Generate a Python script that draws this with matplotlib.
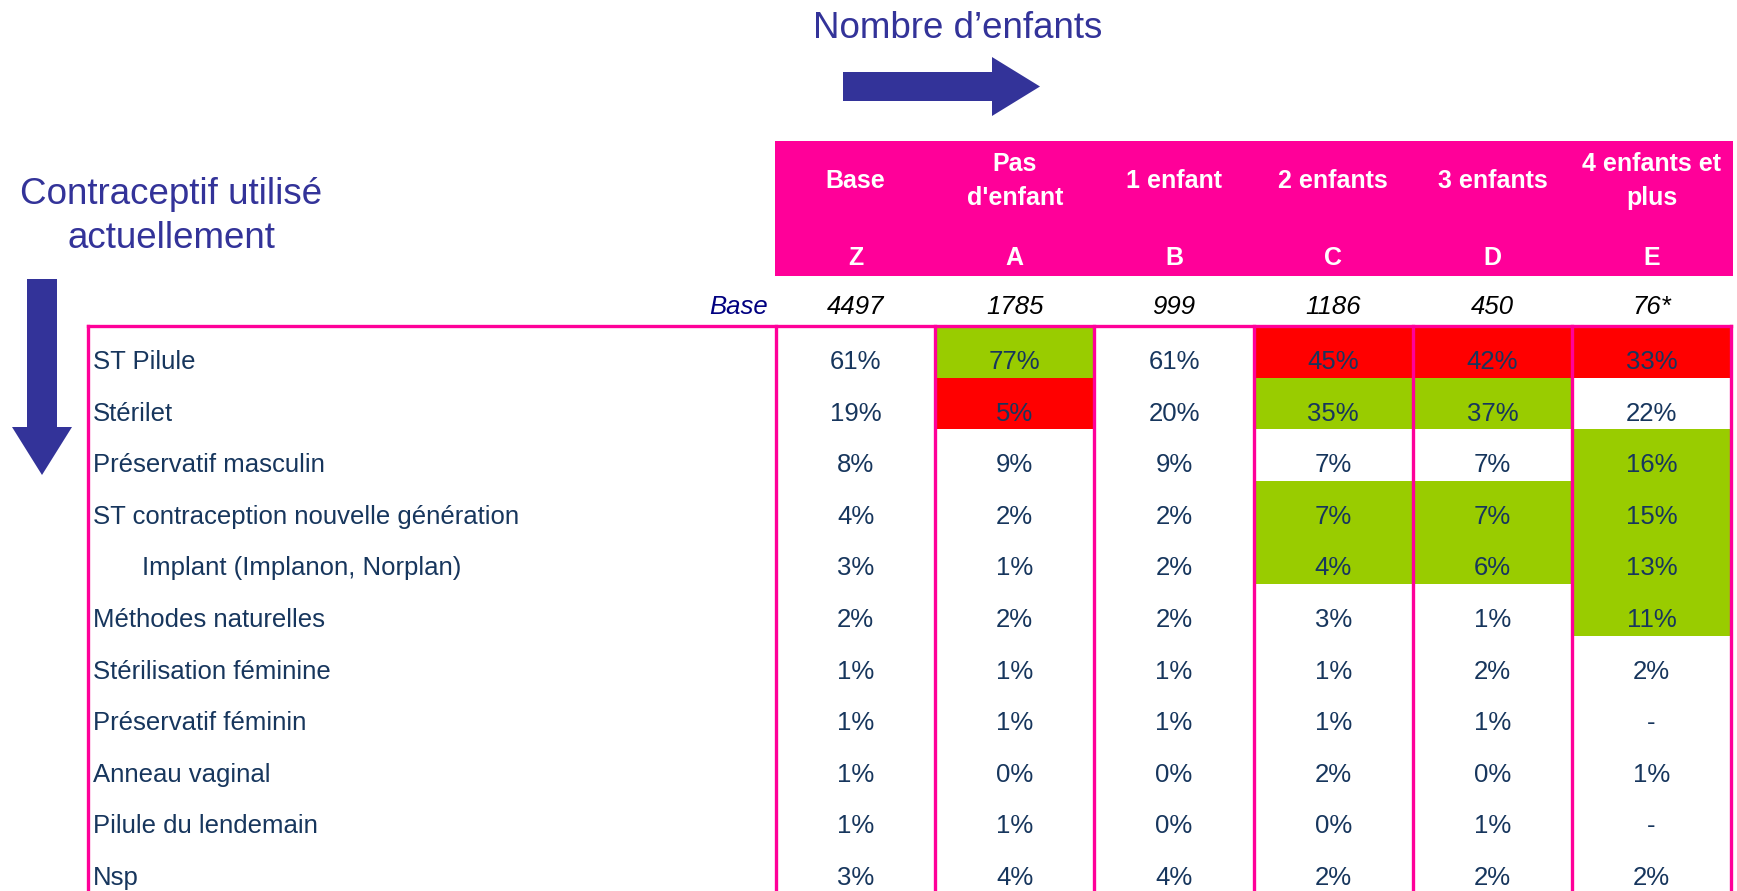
import matplotlib.pyplot as plt
from matplotlib.patches import Rectangle, FancyArrow

plt.rcParams['font.family'] = ['Liberation Sans', 'DejaVu Sans']

row_labels = ["ST Pilule", "Stérilet", "Préservatif masculin",
              "ST contraception nouvelle génération", "Implant (Implanon, Norplan)",
              "Méthodes naturelles", "Stérilisation féminine", "Préservatif féminin",
              "Anneau vaginal", "Pilule du lendemain", "Nsp"]
indent = [False, False, False, False, True, False, False, False, False, False, False]
col_names = ["Base", "Pas\nd'enfant", "1 enfant", "2 enfants", "3 enfants", "4 enfants et\nplus"]
col_letters = ["Z", "A", "B", "C", "D", "E"]
bases = ["4497", "1785", "999", "1186", "450", "76*"]

z_col = [61, 19, 8, 4, 3, 2, 1, 1, 1, 1, 3]
a_col = [77, 5, 9, 2, 1, 2, 1, 1, 0, 1, 4]
b_col = [61, 20, 9, 2, 2, 2, 1, 1, 0, 0, 4]
c_col = [45, 35, 7, 7, 4, 3, 1, 1, 2, 0, 2]
d_col = [42, 37, 7, 7, 6, 1, 2, 1, 0, 1, 2]
e_col = [33, 22, 16, 15, 13, 11, 2, None, 1, None, 2]

# significance flags: 'g' = higher (green), 'r' = lower (red), '' = none
flags = [
    ['', 'g', '', 'r', 'r', 'r'],
    ['', 'r', '', 'g', 'g', ''],
    ['', '', '', '', '', 'g'],
    ['', '', '', 'g', 'g', 'g'],
    ['', '', '', 'g', 'g', 'g'],
    ['', '', '', '', '', 'g'],
    ['', '', '', '', '', ''],
    ['', '', '', '', '', ''],
    ['', '', '', '', '', ''],
    ['', '', '', '', '', ''],
    ['', '', '', '', '', ''],
]

columns = [z_col, a_col, b_col, c_col, d_col, e_col]

# colours
PINK = '#FF0099'
GREEN = '#99CC00'
RED = '#FF0000'
NAVY = '#333399'
TXT = '#17365D'
fill = {'g': GREEN, 'r': RED}

W, H = 1737, 891
fig = plt.figure(figsize=(W / 100, H / 100), dpi=100)
ax = fig.add_axes([0, 0, 1, 1])
ax.set_xlim(0, W)
ax.set_ylim(H, 0)
ax.axis('off')

# layout (pixel units)
x_left = 88
x0 = 776          # first data column edge
cw = 159.2        # column width
y_top = 326       # top border of body
rh = 51.6         # row height
col_edges = [x0 + cw * j for j in range(len(columns) + 1)]
col_mid = [x0 + cw * (j + 0.5) for j in range(len(columns))]

# titles + arrows
ax.text(958, 38, "Nombre d\u2019enfants", fontsize=26.5, color=NAVY, ha='center', va='baseline')
ax.add_patch(FancyArrow(843, 86.5, 197, 0, width=29, head_width=59, head_length=48,
                        length_includes_head=True, color=NAVY, lw=0))
ax.text(171, 204, "Contraceptif utilisé", fontsize=26.5, color=NAVY, ha='center', va='baseline')
ax.text(171, 248, "actuellement", fontsize=26.5, color=NAVY, ha='center', va='baseline')
ax.add_patch(FancyArrow(42, 279, 0, 196, width=30, head_width=60, head_length=48,
                        length_includes_head=True, color=NAVY, lw=0))

# pink header block
ax.add_patch(Rectangle((775, 141), col_edges[-1] + 2 - 775, 135, color=PINK, lw=0))
for j, name in enumerate(col_names):
    ax.text(col_mid[j], 181, name, fontsize=18, fontweight='bold', color='white',
            ha='center', va='center', linespacing=1.55)
    ax.text(col_mid[j], 258, col_letters[j], fontsize=18, fontweight='bold', color='white',
            ha='center', va='center')

# base row
ax.text(768, 307, "Base", fontsize=18.5, style='italic', color='#000080', ha='right', va='center')
for j, b in enumerate(bases):
    ax.text(col_mid[j], 307, b, fontsize=18.5, style='italic', color='black', ha='center', va='center')

# coloured cells
for i in range(len(row_labels)):
    for j in range(len(columns)):
        f = flags[i][j]
        if f:
            ax.add_patch(Rectangle((col_edges[j], y_top + rh * i), cw, rh, color=fill[f], lw=0))

# body text
for i, lab in enumerate(row_labels):
    yc = y_top + rh * i + 36
    ax.text(142 if indent[i] else 93, yc, lab, fontsize=18.5, color=TXT, ha='left', va='center')
    for j, col in enumerate(columns):
        v = col[i]
        s = '-' if v is None else '%d%%' % v
        ax.text(col_mid[j], yc, s, fontsize=18.5, color=TXT, ha='center', va='center')

# grid lines
ax.plot([x_left, col_edges[-1]], [y_top, y_top], color=PINK, lw=2.4, solid_capstyle='projecting')
for x in [x_left] + col_edges:
    ax.plot([x, x], [y_top, H], color=PINK, lw=2.4)

fig.savefig('out.png', dpi=100)
